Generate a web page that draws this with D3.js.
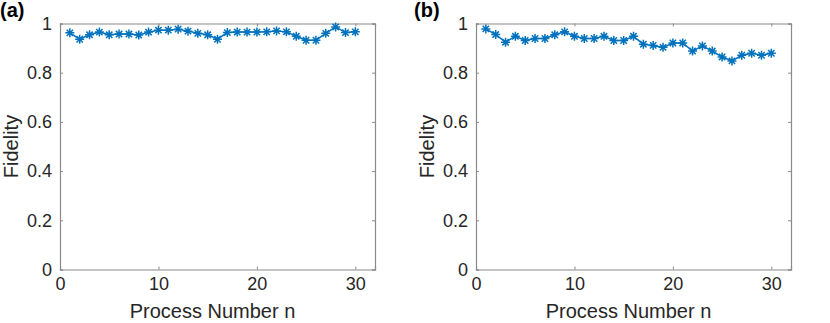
<!DOCTYPE html>
<html>
  <head>
    <title>Fidelity vs process number</title>
    <script src="https://d3js.org/d3.v7.min.js"></script>
    <style type="text/css">
      body { margin: 0; background: #fff; }
      .axis path, .axis line { stroke: #8a8a8a; }
      .axis text { font-family: "Liberation Sans", Arial, sans-serif; font-size: 18px; fill: #262626; }
      .label { font-family: "Liberation Sans", Arial, sans-serif; font-size: 20px; fill: #262626; }
      .panel { font-family: "Liberation Sans", Arial, sans-serif; font-size: 20px; font-weight: bold; fill: #000; }
    </style>
  </head>
  <body>
    <script>
      // Process numbers 1..30
      var processNumbers = [1, 2, 3, 4, 5, 6, 7, 8, 9, 10, 11, 12, 13, 14, 15,
                            16, 17, 18, 19, 20, 21, 22, 23, 24, 25, 26, 27, 28, 29, 30];

      // Fidelity
      var fidelityA = [0.962, 0.936, 0.954, 0.965, 0.954, 0.957, 0.957, 0.953, 0.965, 0.973,
                       0.973, 0.977, 0.969, 0.960, 0.954, 0.936, 0.963, 0.965, 0.965, 0.965,
                       0.966, 0.970, 0.966, 0.948, 0.932, 0.932, 0.960, 0.986, 0.963, 0.966];

      // Fidelity
      var fidelityB = [0.978, 0.955, 0.924, 0.948, 0.931, 0.939, 0.939, 0.954, 0.966, 0.948,
                       0.939, 0.939, 0.948, 0.931, 0.931, 0.948, 0.916, 0.911, 0.903, 0.921,
                       0.921, 0.888, 0.909, 0.888, 0.864, 0.848, 0.871, 0.879, 0.871, 0.879];

      var xTicks = [0, 10, 20, 30];
      var yTicks = [0, 0.2, 0.4, 0.6, 0.8, 1];

      var svgWidth = 830;
      var svgHeight = 323;
      var plotWidth = 315;
      var plotHeight = 246;
      var plotTop = 23.5;
      var lineColor = "#0072BD";

      var svg = d3.select("body")
                  .append("svg")
                  .attr("width", svgWidth)
                  .attr("height", svgHeight);

      drawPanel(60, "(a)", 0, fidelityA);
      drawPanel(476, "(b)", 414, fidelityB);

      function drawPanel(left, tag, tagX, values) {

          var xScale = d3.scaleLinear()
                         .domain([0, 32])
                         .range([left, left + plotWidth]);

          var yScale = d3.scaleLinear()
                         .domain([0, 1])
                         .range([plotTop + plotHeight, plotTop]);

          // Box with inward ticks on all four sides
          svg.append("g")
             .attr("class", "axis")
             .attr("transform", "translate(0," + (plotTop + plotHeight) + ")")
             .call(d3.axisBottom(xScale).tickValues(xTicks).tickSize(-3).tickPadding(8).tickFormat(d3.format("d")));

          svg.append("g")
             .attr("class", "axis")
             .attr("transform", "translate(0," + plotTop + ")")
             .call(d3.axisTop(xScale).tickValues(xTicks).tickSize(-3).tickFormat(""));

          svg.append("g")
             .attr("class", "axis")
             .attr("transform", "translate(" + left + ",0)")
             .call(d3.axisLeft(yScale).tickValues(yTicks).tickSize(-3).tickPadding(8).tickFormat(d3.format("~g")));

          svg.append("g")
             .attr("class", "axis")
             .attr("transform", "translate(" + (left + plotWidth) + ",0)")
             .call(d3.axisRight(yScale).tickValues(yTicks).tickSize(-3).tickFormat(""));

          svg.selectAll(".axis .domain").attr("stroke-width", 1.2);

          // Data line
          var line = d3.line()
                       .x(function(d, i) { return xScale(processNumbers[i]); })
                       .y(function(d) { return yScale(d); });

          svg.append("path")
             .datum(values)
             .attr("fill", "none")
             .attr("stroke", lineColor)
             .attr("stroke-width", 1.5)
             .attr("d", line);

          // Asterisk markers
          var r = 4.5;
          var d45 = r * Math.SQRT1_2;
          var star = "M" + (-r) + ",0L" + r + ",0M0," + (-r) + "L0," + r +
                     "M" + (-d45) + "," + (-d45) + "L" + d45 + "," + d45 +
                     "M" + (-d45) + "," + d45 + "L" + d45 + "," + (-d45);

          svg.append("g")
             .selectAll("path")
             .data(values)
             .enter()
             .append("path")
             .attr("transform", function(d, i) {
                 return "translate(" + xScale(processNumbers[i]) + "," + yScale(d) + ")";
             })
             .attr("d", star)
             .attr("fill", "none")
             .attr("stroke", lineColor)
             .attr("stroke-width", 1.5);

          // Axis labels
          svg.append("text")
             .attr("class", "label")
             .attr("x", left + plotWidth / 2 - 5)
             .attr("y", 318)
             .attr("text-anchor", "middle")
             .text("Process Number n");

          svg.append("text")
             .attr("class", "label")
             .attr("transform", "translate(" + (left - 42) + "," + (plotTop + plotHeight / 2) + ") rotate(-90)")
             .attr("text-anchor", "middle")
             .text("Fidelity");

          // Panel tag
          svg.append("text")
             .attr("class", "panel")
             .attr("x", tagX)
             .attr("y", 17)
             .text(tag);
      }
    </script>
  </body>
</html>
